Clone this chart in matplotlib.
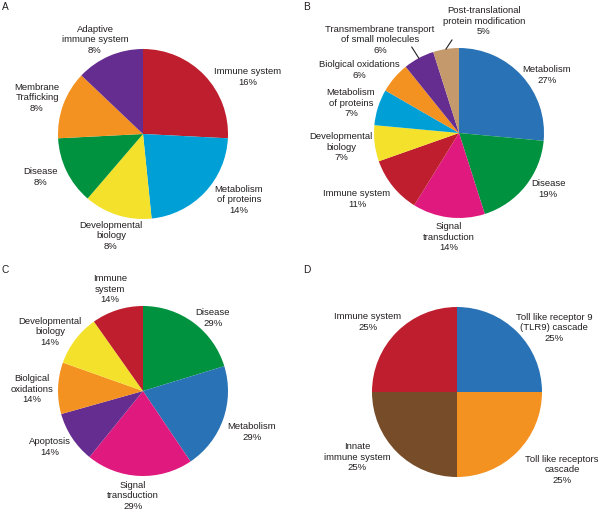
import numpy as np
import matplotlib
matplotlib.use('Agg')
import matplotlib.pyplot as plt

# Panel A
a_names = ["Immune system", "Metabolism\nof proteins", "Developmental\nbiology",
           "Disease", "Membrane\nTrafficking", "Adaptive\nimmune system"]
a_pct = [16, 14, 8, 8, 8, 8]

# Panel B
b_names = ["Metabolism", "Disease", "Signal\ntransduction", "Immune system",
           "Developmental\nbiology", "Metabolism\nof proteins", "Biolgical oxidations",
           "Transmembrane transport\nof small molecules",
           "Post-translational\nprotein modification"]
b_pct = [27, 19, 14, 11, 7, 7, 6, 6, 5]

# Panel C
c_names = ["Disease", "Metabolism", "Signal\ntransduction", "Apoptosis",
           "Biolgical\noxidations", "Developmental\nbiology", "Immune\nsystem"]
c_pct = [29, 29, 29, 14, 14, 14, 14]

# Panel D
d_names = ["Toll like receptor 9\n(TLR9) cascade", "Toll like receptors\ncascade",
           "Innate\nimmune system", "Immune system"]
d_pct = [25, 25, 25, 25]

RED, CYAN, YELLOW, GREEN = '#BE1E2D', '#00A0D6', '#F4E12B', '#00923F'
ORANGE, PURPLE, BLUE, PINK = '#F39220', '#662D91', '#2872B5', '#E0197E'
TAN, BROWN = '#C49A6C', '#774C28'

a_colors = [RED, CYAN, YELLOW, GREEN, ORANGE, PURPLE]
b_colors = [BLUE, GREEN, PINK, RED, YELLOW, CYAN, ORANGE, PURPLE, TAN]
c_colors = [GREEN, BLUE, PINK, PURPLE, ORANGE, YELLOW, RED]
d_colors = [BLUE, ORANGE, BROWN, RED]

# label layout in image pixels (x, y from top)
a_pos = [(248, 77), (239, 200), (111, 236), (41, 177), (37, 98), (95, 40)]
b_pos = [(547, 75), (548, 189), (449, 237), (357, 199), (341, 147), (351, 103),
         (359, 70), (380, 40), (484, 21)]
c_pos = [(213, 318), (252, 432), (133, 496), (50, 447), (32, 389), (50, 332), (110, 289)]
d_pos = [(554, 328), (562, 470), (357, 457), (368, 322)]

W, H = 600, 512
TXT = '#231F20'
FONT = ['Liberation Sans', 'DejaVu Sans']

fig = plt.figure(figsize=(6, 5.12), dpi=100)
ax = fig.add_axes([0, 0, 1, 1])


def draw_pie(values, names, colors, center, positions, leaders=()):
    cx, cy = center
    wedges, _ = ax.pie(values, colors=colors, startangle=90, counterclock=False,
                       center=(cx, H - cy), radius=85,
                       wedgeprops=dict(linewidth=0))
    for name, v, (x, y) in zip(names, values, positions):
        ax.text(x, H - y, f"{name}\n{v}%", ha='center', va='center',
                fontsize=6.8, color=TXT, family=FONT, linespacing=1.22)
    # short leader lines for the small wedges
    for i, (dx, dy) in leaders:
        w = wedges[i]
        ang = np.deg2rad((w.theta1 + w.theta2) / 2)
        x0 = cx + 85 * np.cos(ang)
        y0 = H - cy + 85 * np.sin(ang)
        ax.plot([x0, x0 + dx], [y0, y0 + dy], color=TXT, lw=0.8)


draw_pie(a_pct, a_names, a_colors, (143, 134), a_pos)
draw_pie(b_pct, b_names, b_colors, (459, 133), b_pos,
         leaders=[(7, (-7, 11)), (8, (6, 9))])
draw_pie(c_pct, c_names, c_colors, (143, 391), c_pos)
draw_pie(d_pct, d_names, d_colors, (457, 392), d_pos)

for letter, (x, y) in zip("ABCD", [(2, 7), (303, 7), (2, 270), (303, 270)]):
    ax.text(x, H - y, letter, ha='left', va='center', fontsize=7.3,
            color=TXT, family=FONT)

ax.set_xlim(0, W)
ax.set_ylim(0, H)
ax.set_aspect('equal')
ax.axis('off')

fig.savefig('out.png', dpi=100, facecolor='white')
